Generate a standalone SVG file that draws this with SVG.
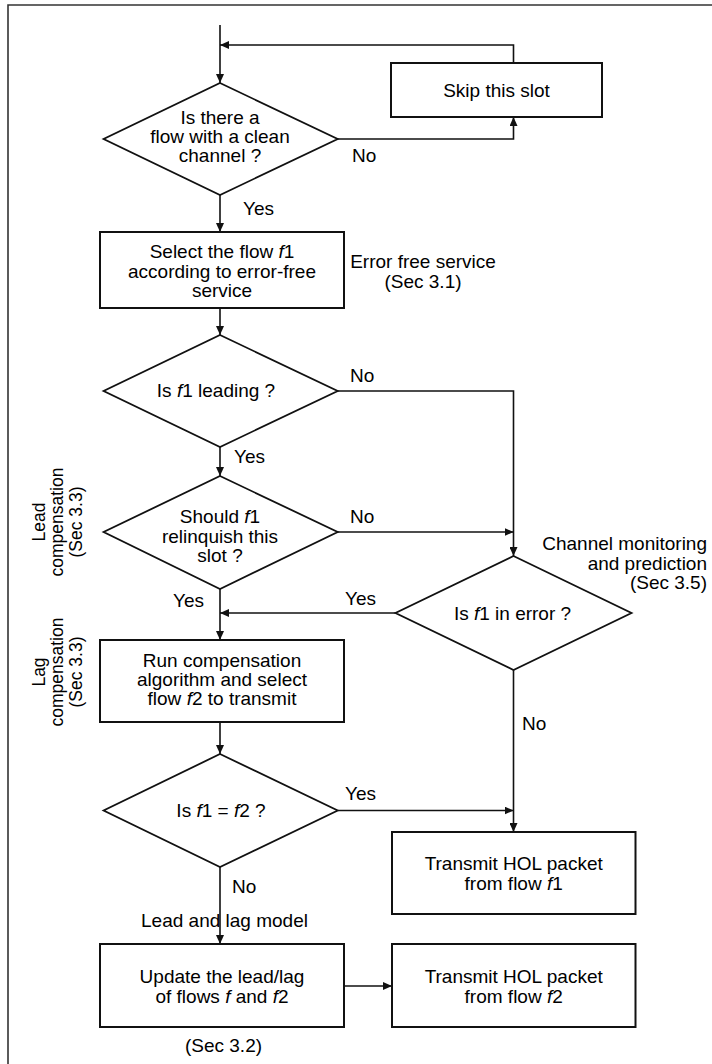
<svg xmlns="http://www.w3.org/2000/svg" width="712" height="1064" viewBox="0 0 712 1064">
<defs>
<style>
text{font-family:"Liberation Sans",Arial,sans-serif;font-size:19px;fill:#000}
.c{text-anchor:middle}
.r{text-anchor:end}
.rot{font-size:17.5px;text-anchor:middle}
.box{fill:#fff;stroke:#111;stroke-width:2}
.dia{fill:#fff;stroke:#111;stroke-width:1.8}
.ln{fill:none;stroke:#111;stroke-width:1.6;marker-end:url(#ah)}
.it{font-style:italic}
</style>
<marker id="ah" markerUnits="userSpaceOnUse" markerWidth="10" markerHeight="8" refX="9" refY="4" orient="auto">
<path d="M0,0 L9,4 L0,8 Z" fill="#111"/>
</marker>
</defs>
<rect width="712" height="1064" fill="#fff"/>
<path d="M8,1064 V5 H712" fill="none" stroke="#333" stroke-width="1.6"/>

<g id="connectors">
<path class="ln" d="M220,25 V83"/>
<path class="ln" d="M513.5,63 V45 H220"/>
<path class="ln" d="M337.7,139 H513.5 V117"/>
<path class="ln" d="M220,195 V232"/>
<path class="ln" d="M220,308 V335"/>
<path class="ln" d="M220,447 V476"/>
<path class="ln" d="M337.7,391 H513.5 V556"/>
<path class="ln" d="M337.7,532 H513.5"/>
<path class="ln" d="M220,589 V640"/>
<path class="ln" d="M395.5,613 H220"/>
<path class="ln" d="M513.5,670 V832"/>
<path class="ln" d="M337.7,810.5 H513.5"/>
<path class="ln" d="M220,722 V754"/>
<path class="ln" d="M220,867 V944"/>
<path class="ln" d="M344,986 H392"/>
</g>

<g id="skip">
<rect class="box" x="391" y="63" width="211" height="54"/>
<text class="c" x="496.5" y="96.5">Skip this slot</text>
</g>

<g id="d1">
<polygon class="dia" points="220,83 337.7,139 220,195 103.6,139"/>
<text class="c" x="220" y="124">Is there a<tspan x="220" dy="19">flow with a clean</tspan><tspan x="220" dy="19">channel ?</tspan></text>
</g>
<text id="d1-no" x="352" y="161.5">No</text>
<text id="d1-yes" x="243" y="214.5">Yes</text>

<g id="select">
<rect class="box" x="100" y="232" width="244" height="76"/>
<text class="c" x="222" y="258">Select the flow <tspan class="it">f</tspan>1<tspan x="222" dy="19.5">according to error-free</tspan><tspan x="222" dy="19">service</tspan></text>
</g>
<g id="lbl-errfree">
<text class="c" x="423" y="268">Error free service<tspan x="423" dy="20">(Sec 3.1)</tspan></text>
</g>

<g id="d2">
<polygon class="dia" points="220,335 337.7,391 220,447 103.6,391"/>
<text class="c" x="216" y="397">Is <tspan class="it">f</tspan>1 leading ?</text>
</g>
<text id="d2-no" x="350" y="381.5">No</text>
<text id="d2-yes" x="234" y="463">Yes</text>

<g id="lbl-lead">
<text class="rot" transform="translate(45,522) rotate(-90)">Lead<tspan x="0" dy="18">compensation</tspan><tspan x="0" dy="19">(Sec 3.3)</tspan></text>
</g>

<g id="d3">
<polygon class="dia" points="220,476 337.7,532 220,589 103.6,532"/>
<text class="c" x="220" y="523">Should <tspan class="it">f</tspan>1<tspan x="220" dy="19.5">relinquish this</tspan><tspan x="220" dy="19">slot ?</tspan></text>
</g>
<text id="d3-no" x="350" y="523">No</text>
<text id="d3-yes" x="173" y="606.5">Yes</text>

<g id="lbl-channel">
<text class="r" x="707" y="550">Channel monitoring<tspan x="707" dy="19.5">and prediction</tspan><tspan x="707" dy="19">(Sec 3.5)</tspan></text>
</g>

<g id="d4">
<polygon class="dia" points="513.5,556 631.5,613 513.5,670 395.5,613"/>
<text class="c" x="512.5" y="619.5">Is <tspan class="it">f</tspan>1 in error ?</text>
</g>
<text id="d4-yes" x="345" y="604.5">Yes</text>
<text id="d4-no" x="522" y="729.5">No</text>

<g id="lbl-lag">
<text class="rot" transform="translate(45,672) rotate(-90)">Lag<tspan x="0" dy="18">compensation</tspan><tspan x="0" dy="19">(Sec 3.3)</tspan></text>
</g>

<g id="run">
<rect class="box" x="100" y="640" width="244" height="82"/>
<text class="c" x="222" y="666.5">Run compensation<tspan x="222" dy="19">algorithm and select</tspan><tspan x="222" dy="19">flow <tspan class="it">f</tspan>2 to transmit</tspan></text>
</g>

<g id="d5">
<polygon class="dia" points="220,754 337.7,810.5 220,867 103.6,810.5"/>
<text class="c" x="221" y="817">Is <tspan class="it">f</tspan>1 = <tspan class="it">f</tspan>2 ?</text>
</g>
<text id="d5-yes" x="345" y="799.5">Yes</text>
<text id="d5-no" x="232" y="893">No</text>

<g id="tx1">
<rect class="box" x="392" y="832" width="243.5" height="82"/>
<text class="c" x="513.7" y="869.5">Transmit HOL packet<tspan x="513.7" dy="20">from flow <tspan class="it">f</tspan>1</tspan></text>
</g>

<text id="lbl-leadlag" class="c" x="224.5" y="926.5">Lead and lag model</text>

<g id="update">
<rect class="box" x="100" y="944" width="244" height="83"/>
<text class="c" x="222" y="983">Update the lead/lag<tspan x="222" dy="19.5">of flows <tspan class="it">f</tspan> and <tspan class="it">f</tspan>2</tspan></text>
</g>

<g id="tx2">
<rect class="box" x="392" y="944" width="243.5" height="83"/>
<text class="c" x="513.7" y="983">Transmit HOL packet<tspan x="513.7" dy="19.5">from flow <tspan class="it">f</tspan>2</tspan></text>
</g>

<text id="lbl-sec32" class="c" x="223.5" y="1051.5">(Sec 3.2)</text>
</svg>
